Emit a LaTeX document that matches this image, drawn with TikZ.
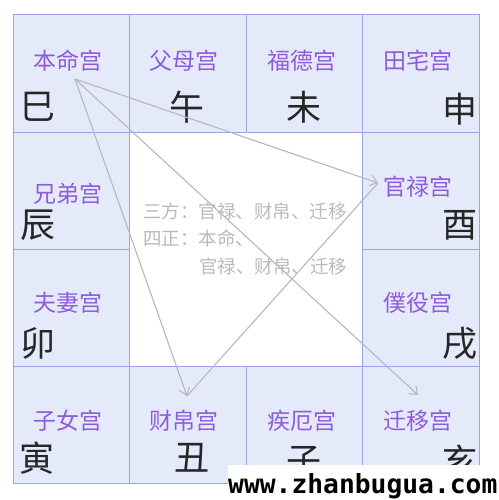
\documentclass[tikz,border=0pt]{standalone}
\usepackage{fontspec}
\setmainfont{Noto Sans CJK SC}
\newfontfamily\sitefont{DejaVu Sans Mono}
\usetikzlibrary{arrows.meta}
\definecolor{CellFill}{RGB}{229,234,250}
\definecolor{CellLine}{RGB}{150,166,228}
\definecolor{PalaceText}{RGB}{142,92,218}
\definecolor{LinkGray}{RGB}{184,184,184}
\definecolor{NoteGray}{RGB}{186,186,186}

\begin{document}
\begin{tikzpicture}[x=1pt,y=-1pt,
    cell/.style={draw=CellLine,fill=CellFill,line width=1pt,minimum width=116.5pt,minimum height=117pt,inner sep=0pt},
    palace/.style={text=PalaceText,font=\fontsize{23}{23}\selectfont,inner sep=0pt},
    branch/.style={text=black!85,font=\fontsize{35}{35}\selectfont,inner sep=0pt},
    note/.style={text=NoteGray,font=\fontsize{18.5}{18.5}\selectfont,inner sep=0pt,anchor=west},
    link/.style={draw=LinkGray,line width=1.1pt,-{Straight Barb[length=7pt,width=11pt]}}]
  \useasboundingbox[fill=white] (0,0) rectangle (498,500);
  % the twelve palaces around the centre
  \foreach \c/\r/\n in {0/0/si,1/0/wu,2/0/wei,3/0/shen,3/1/you,3/2/xu,3/3/hai,2/3/zi,1/3/chou,0/3/yin,0/2/mao,0/1/chen}
    \node[cell] (\n) at ({71.5+116.5*\c},{73.5+117*\r}) {};
  % palace names
  \foreach \n/\t/\px/\py in {si/本命宫/68/61,wu/父母宫/184/61,wei/福德宫/302/61,shen/田宅宫/418/61,
      chen/兄弟宫/68/194,you/官禄宫/418/187,mao/夫妻宫/68/303,xu/僕役宫/418/303,
      yin/子女宫/68/421,chou/财帛宫/184/421,zi/疾厄宫/302/421,hai/迁移宫/418/421}
    \node[palace] (\n-name) at (\px,\py) {\t};
  % earthly branches
  \foreach \n/\t/\a/\bx/\by in {si/巳/west/20/107,wu/午/center/187/107,wei/未/center/304/107,shen/申/east/478/109,
      chen/辰/west/20/225,you/酉/east/478/225,mao/卯/west/20/343,xu/戌/east/478/343,
      yin/寅/west/19/458,chou/丑/center/192/458,zi/子/center/304/461,hai/亥/east/478/461}
    \node[branch,anchor=\a] (\n-branch) at (\bx,\by) {\t};
  % notes in the centre
  \node[note] (sanfang) at (143,211) {三方：官禄、财帛、迁移};
  \node[note] (sizheng) at (143,238) {四正：本命、};
  \node[note] (sizheng2) at (199,266) {官禄、财帛、迁移};
  % arrows from the life palace
  \coordinate (ming) at (75,79);
  \coordinate (guan) at (378,183);
  \coordinate (cai) at (187,396);
  \coordinate (qian) at (418,395);
  \draw[link] (ming) -- (guan);
  \draw[link] (ming) -- (cai);
  \draw[link] (ming) -- (qian);
  \draw[draw=LinkGray,line width=1.1pt] (cai) -- (guan);
  % watermark
  \fill[white] (228,465) rectangle (498,500);
  \node[anchor=base west,inner sep=0pt,font=\sitefont\bfseries\fontsize{26.3}{26.3}\selectfont] (site) at (228,493) {www.zhanbugua.com};
\end{tikzpicture}
\end{document}
